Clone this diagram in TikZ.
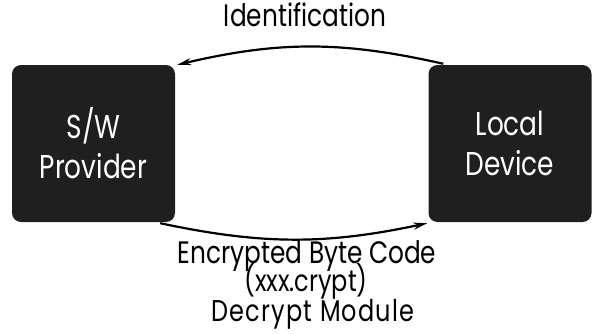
\documentclass[tikz,border=0pt]{standalone}
\usepackage{fontspec}
\setmainfont[FakeStretch=0.8]{Poppins}
\usetikzlibrary{arrows.meta}
\usetikzlibrary{positioning}

\begin{document}
\begin{tikzpicture}[x=1pt, y=1pt,
  devbox/.style={fill=black!88, text=white, rounded corners=9pt,
    minimum width=163pt, minimum height=157pt, align=center,
    font=\fontsize{33}{40}\selectfont},
  flow/.style={-{Stealth[length=14pt, width=7pt]}, line width=2.2pt},
  lbl/.style={inner sep=0pt, anchor=base, font=\fontsize{31}{36}\selectfont}]
  % 画布大小
  \useasboundingbox (0,0) rectangle (598,333);
  % 两端的设备框
  \node[devbox] (swp) at (93.5,189.5) {S/W\\Provider};
  \node[devbox] (ld) at (510,189.5) {Local\\Device};
  % 上方：识别请求
  \draw[flow] ([xshift=15pt, yshift=1pt]ld.north west)
    to[bend right=13] ([xshift=2pt]swp.north east);
  % 下方：加密字节码
  \draw[flow] ([xshift=-15pt, yshift=-1pt]swp.south east)
    to[bend right=12] ([xshift=-1pt, yshift=-1pt]ld.south west);
  % 文字标注
  \node[lbl] (ident) at (305,306) {Identification};
  \node[lbl] (code) at (307,70) {Encrypted Byte Code};
  \node[lbl, font=\fontsize{30}{36}\selectfont] (file) at (306,42) {(xxx.crypt)};
  \node[lbl, font=\fontsize{30}{36}\selectfont\addfontfeature{LetterSpace=4}] (dmod) at (313,12) {Decrypt Module};
\end{tikzpicture}
\end{document}
